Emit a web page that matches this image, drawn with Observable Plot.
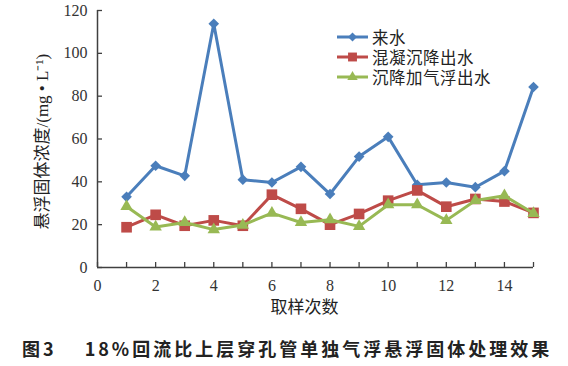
<!DOCTYPE html>
<html><head><meta charset="utf-8">
<script src="https://cdn.jsdelivr.net/npm/d3@7"></script>
<script src="https://cdn.jsdelivr.net/npm/@observablehq/plot@0.6"></script>
<style>
body{margin:0;background:#fff;}
#wrap{position:relative;width:568px;height:366px;overflow:hidden;background:#fff;}
#legend{position:absolute;left:337px;top:27px;font:16.5px/20px "Noto Sans CJK SC";letter-spacing:0.5px;color:#222;}
.row{display:flex;align-items:center;height:20px;line-height:20px;}
.row span{line-height:20px;height:20px;display:block}
.row svg{margin-right:4px;flex:none}
#title{position:absolute;left:22px;top:336px;font:600 18px "Noto Sans CJK SC";letter-spacing:3px;line-height:24px;white-space:pre;color:#222}
g[aria-label$="tick label"]{font-family:"Liberation Serif","DejaVu Serif",serif !important;}
</style></head><body><div id="wrap"></div>
<script>
const samples = [1,2,3,4,5,6,7,8,9,10,11,12,13,14,15];
const inflow  = [33,47.5,42.8,113.8,41,39.7,47,34.3,51.8,61,38.6,39.7,37.5,45,84.3];
const coag    = [18.8,24.6,19.5,22,19.5,34,27.4,20,25,31.2,36,28.4,32,30.8,25.5];
const flot    = [28.5,18.9,21,17.7,19.8,25.4,21,22.3,19.2,29.3,29.3,22,31.3,33.5,25.3];
const seriesNames = ["来水","混凝沉降出水","沉降加气浮出水"];
const colors = ["#4a7ebb","#be4b48","#98b954"];
const symbols = ["diamond2","square","triangle"];
const radii = [4.8,6.0,4.6];
const xTickAll = [0,1,2,3,4,5,6,7,8,9,10,11,12,13,14,15];
const xTickLabels = [0,2,4,6,8,10,12,14];
const yTicks = [0,20,40,60,80,100,120];
const xLabel = "取样次数";
const yLabel = "悬浮固体浓度/(mg • L⁻¹)";
const titleA = "图3";
const titleB = "18%回流比上层穿孔管单独气浮悬浮固体处理效果";

const serif = "'Liberation Serif', 'DejaVu Serif', serif";
const mixed = "'Liberation Serif', 'Noto Sans CJK SC', serif";

const values = [inflow, coag, flot];
const seriesMarks = values.flatMap((vals, k) => {
  const rows = samples.map((s, i) => ({s, v: vals[i]}));
  return [
    Plot.line(rows, {x: "s", y: "v", stroke: colors[k], strokeWidth: 3}),
    Plot.dot(rows, {x: "s", y: "v", symbol: symbols[k], fill: colors[k], r: radii[k]})
  ];
});

const plot = Plot.plot({
  width: 568, height: 325,
  marginLeft: 97, marginRight: 35, marginTop: 10, marginBottom: 58,
  x: {domain: [0, 15]},
  y: {domain: [0, 120]},
  style: {fontFamily: mixed, fontSize: "16px", color: "#222", background: "white"},
  marks: [
    Plot.axisX({ticks: xTickAll, tickSize: -5, tickFormat: () => "", stroke: "#404040", strokeWidth: 1.3, label: null}),
    Plot.axisX({ticks: xTickLabels, tickSize: 0, tickPadding: 12, fontSize: 16, fontFamily: serif, label: null, fill: "#333"}),
    Plot.axisY({ticks: yTicks, tickSize: -5, tickFormat: () => "", stroke: "#404040", strokeWidth: 1.3, label: null}),
    Plot.axisY({ticks: yTicks, tickSize: 0, tickPadding: 10, fontSize: 16, fontFamily: serif, label: null, fill: "#333"}),
    Plot.ruleX([0], {stroke: "#404040", strokeWidth: 1.5}),
    Plot.ruleY([0], {stroke: "#404040", strokeWidth: 1.5}),
    ...seriesMarks,
    Plot.text([xLabel], {text: d => d, frameAnchor: "bottom", textAnchor: "middle", lineAnchor: "middle", dx: -11, dy: 40, fontFamily: "Noto Sans CJK SC", fontSize: 17, fill: "#222"}),
    Plot.text([yLabel], {text: d => d, frameAnchor: "bottom-left", textAnchor: "start", lineAnchor: "middle", rotate: -90, dx: -55, dy: -38, fontFamily: mixed, fontSize: 17, fill: "#222"})
  ]
});

const wrap = document.getElementById("wrap");
wrap.appendChild(plot);

const legend = document.createElement("div");
legend.id = "legend";
seriesNames.forEach((name, k) => {
  const row = document.createElement("div");
  row.className = "row";
  const sym = d3.symbol(d3["symbol" + {diamond2: "Diamond2", square: "Square", triangle: "Triangle"}[symbols[k]]], Math.PI * radii[k] * radii[k] * 0.7)();
  row.innerHTML = `<svg width="31" height="20"><line x1="0" x2="31" y1="10" y2="10" stroke="${colors[k]}" stroke-width="3"/><path transform="translate(15.5,10)" d="${sym}" fill="${colors[k]}"/></svg><span>${name}</span>`;
  legend.appendChild(row);
});
wrap.appendChild(legend);

const title = document.createElement("div");
title.id = "title";
title.innerHTML = `<span>${titleA}</span><span style="margin-left:28px">${titleB}</span>`;
wrap.appendChild(title);
</script>
</body></html>
